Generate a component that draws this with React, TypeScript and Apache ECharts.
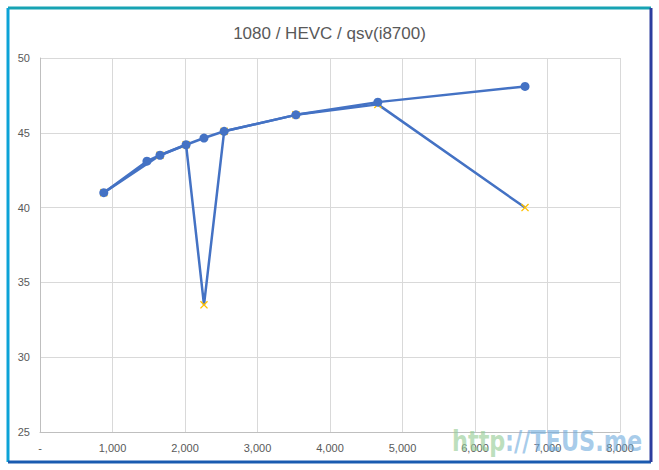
import React, { useEffect, useRef } from "react";
import * as echarts from "echarts";

const titleText = "1080 / HEVC / qsv(i8700)";
const xTicks = [0, 1000, 2000, 3000, 4000, 5000, 6000, 7000, 8000];
const yTicks = [25, 30, 35, 40, 45, 50];

const circleX = [880, 1475, 1655, 2015, 2262, 2540, 3530, 4660, 6690];
const circleY = [41.0, 43.1, 43.5, 44.2, 44.65, 45.1, 46.2, 47.05, 48.1];

const crossX = [880, 1655, 2015, 2262, 2540, 3530, 4660, 6690];
const crossY = [41.0, 43.5, 44.2, 33.5, 45.1, 46.2, 46.9, 40.0];

const watermarkA = "http";
const watermarkB = "://TEUS.me";

const crossPath =
  "path://M0,1.2 L1.2,0 L10,8.8 L8.8,10 Z M8.8,0 L10,1.2 L1.2,10 L0,8.8 Z";

export default function App() {
  const ref = useRef<HTMLDivElement>(null);
  useEffect(() => {
    if (!ref.current) return;
    const chart = echarts.init(ref.current, undefined, { renderer: "svg" });
    const font = "'Liberation Sans', Arial, sans-serif";
    const lineColor = "#4472C4";
    chart.setOption({
      animation: false,
      backgroundColor: "#ffffff",
      title: {
        text: titleText,
        left: "center",
        top: 20,
        textStyle: {
          fontFamily: font,
          fontSize: 17,
          fontWeight: "normal",
          color: "#595959",
        },
      },
      grid: { left: 40, right: 39, top: 58, bottom: 38, containLabel: false },
      xAxis: {
        type: "value",
        min: xTicks[0],
        max: xTicks[xTicks.length - 1],
        interval: 1000,
        axisLine: { show: true, lineStyle: { color: "#BFBFBF", width: 1 } },
        axisTick: { show: false },
        splitLine: { show: true, lineStyle: { color: "#D9D9D9", width: 1 } },
        axisLabel: {
          margin: 10,
          fontFamily: font,
          fontSize: 11,
          color: "#595959",
          formatter: (v: number) =>
            v === 0 ? "-" : v.toLocaleString("en-US"),
        },
      },
      yAxis: {
        type: "value",
        min: yTicks[0],
        max: yTicks[yTicks.length - 1],
        interval: 5,
        axisLine: { show: true, lineStyle: { color: "#BFBFBF", width: 1 } },
        axisTick: { show: false },
        splitLine: { show: true, lineStyle: { color: "#D9D9D9", width: 1 } },
        axisLabel: {
          margin: 10,
          fontFamily: font,
          fontSize: 11,
          color: "#595959",
        },
      },
      series: [
        {
          type: "line",
          data: crossX.map((x, i) => [x, crossY[i]]),
          symbol: crossPath,
          symbolSize: 8,
          showAllSymbol: true,
          lineStyle: { color: lineColor, width: 2.5 },
          itemStyle: { color: "#FFC000" },
          z: 2,
        },
        {
          type: "line",
          data: circleX.map((x, i) => [x, circleY[i]]),
          symbol: "circle",
          symbolSize: 9,
          showAllSymbol: true,
          lineStyle: { color: lineColor, width: 2.5 },
          itemStyle: { color: lineColor },
          z: 3,
        },
      ],
      graphic: [
        {
          type: "line",
          shape: { x1: 8, y1: 8, x2: 651, y2: 8 },
          style: { stroke: "#17A3B3", lineWidth: 3 },
        },
        {
          type: "line",
          shape: { x1: 8, y1: 8, x2: 8, y2: 462 },
          style: { stroke: "#0CA3D7", lineWidth: 3 },
        },
        {
          type: "line",
          shape: { x1: 8, y1: 462, x2: 651, y2: 462 },
          style: { stroke: "#1A5BB0", lineWidth: 3 },
        },
        {
          type: "line",
          shape: { x1: 651, y1: 8, x2: 651, y2: 462 },
          style: { stroke: "#2C3C9E", lineWidth: 3 },
        },
        {
          type: "text",
          x: 452,
          y: 427,
          scaleX: 0.8,
          z: 100,
          style: {
            text: watermarkA,
            fontFamily: "'DejaVu Sans', sans-serif",
            fontSize: 28,
            fontWeight: "bold",
            fill: "rgba(150,205,150,0.65)",
          },
        },
        {
          type: "text",
          x: 505,
          y: 427,
          scaleX: 0.8,
          z: 100,
          style: {
            text: watermarkB,
            fontFamily: "'DejaVu Sans', sans-serif",
            fontSize: 28,
            fontWeight: "bold",
            fill: "rgba(110,170,220,0.6)",
          },
        },
      ],
    });
    return () => chart.dispose();
  }, []);
  return (
    <div
      ref={ref}
      style={{ position: "fixed", left: 0, top: 0, width: 659, height: 470 }}
    />
  );
}
